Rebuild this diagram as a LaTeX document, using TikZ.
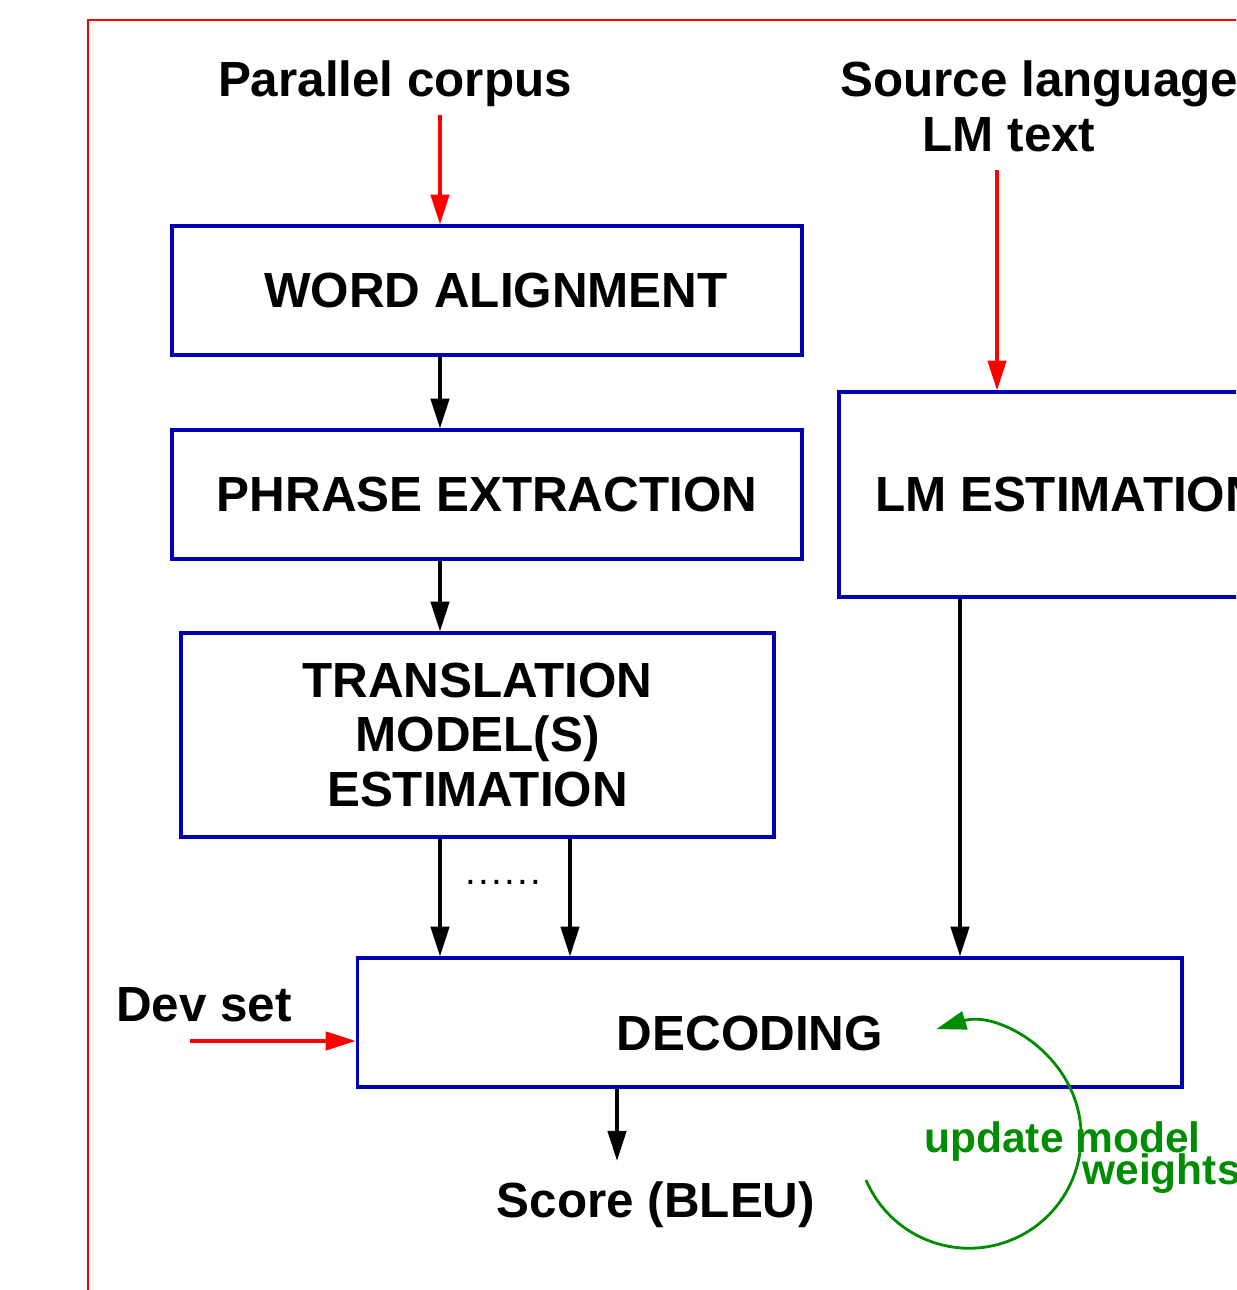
\documentclass[tikz,border=0pt]{standalone}
\usepackage{fontspec}
\setmainfont{Liberation Sans}
\usetikzlibrary{arrows.meta}
\definecolor{boxblue}{RGB}{0,0,178}
\definecolor{loopgreen}{RGB}{0,140,0}
\newcommand{\stagefont}{\fontsize{28.1}{31.2}\selectfont\bfseries}
\newcommand{\loopfont}{\fontsize{24.2}{26}\selectfont\bfseries}

\begin{document}
\begin{tikzpicture}[x=0.02cm,y=0.02cm,
    stage/.style={draw=boxblue,line width=1.8pt,inner sep=0pt,align=center,font=\stagefont},
    lbl/.style={inner sep=4pt,text depth=6pt,font=\stagefont},
    looplbl/.style={inner sep=4pt,font=\loopfont,text=loopgreen},
    flow/.style={line width=1.8pt,-{Triangle[length=17pt,width=10.5pt]}},
    feed/.style={flow,red}]
    \useasboundingbox (0,0) rectangle (1236,1290);
    \clip (0,0) rectangle (1236,1290);

    % frame
    \draw[red,line width=0.9pt] (88,0) -- (88,1270) -- (1300,1270);

    % columns of the arrows
    \coordinate (colA) at (440,0);
    \coordinate (colB) at (570,0);
    \coordinate (colL) at (960,0);
    \coordinate (colS) at (997,0);
    \coordinate (colD) at (617,0);

    % inputs
    \node[lbl,anchor=base] (corpus) at (395,1193) {Parallel corpus};
    \node[lbl,anchor=base west] (srclang) at (833,1193) {Source language};
    \node[lbl,anchor=base] (lmtext) at (1009,1138) {LM text};

    % stages
    \node[stage,minimum width=12.6cm,minimum height=2.58cm] (align) at (487,999.5) {};
    \node[lbl,anchor=base] (aligntxt) at (496,982) {WORD ALIGNMENT};
    \node[stage,minimum width=12.6cm,minimum height=2.58cm] (phrase) at (487,795.5) {PHRASE EXTRACTION};
    \node[stage,minimum width=11.86cm,minimum height=4.08cm] (tmest) at (477.5,555) {TRANSLATION\\MODEL(S)\\ESTIMATION};
    \node[stage,minimum width=9.16cm,minimum height=4.1cm] (lmest) at (1068,795.5) {LM ESTIMATION};
    \node[stage,minimum width=16.5cm,minimum height=2.58cm] (decode) at (769.5,267.5) {};
    \node[lbl,anchor=base] (decodetxt) at (750,239) {DECODING};

    \node[font=\fontsize{22}{24}\selectfont,anchor=base] (dots) at (503,405) {.\kern1.3pt.\kern1.3pt.\kern1.3pt.\kern1.3pt.\kern1.3pt.};

    % dev set and score
    \node[lbl,anchor=base] (devset) at (204,268) {Dev set};
    \coordinate (devin) at (190,249);
    \node[lbl,anchor=base] (score) at (656,72) {Score (BLEU)};

    \draw[feed] (corpus.south -| colA) -- (align.north -| colA);
    \draw[feed] (lmtext.south -| colS) -- (lmest.north -| colS);
    \draw[flow] (align.south -| colA) -- (phrase.north -| colA);
    \draw[flow] (phrase.south -| colA) -- (tmest.north -| colA);
    \draw[flow] (tmest.south -| colA) -- (decode.north -| colA);
    \draw[flow] (tmest.south -| colB) -- (decode.north -| colB);
    \draw[flow] (lmest.south -| colL) -- (decode.north -| colL);
    \draw[feed] (devin) -- (decode.west |- devin);
    \draw[flow,shorten >=8pt] (decode.south -| colD) -- (score.north -| colD);

    % weight update loop
    \coordinate (loopstart) at (866,110);
    \draw[loopgreen,line width=1.6pt,-{Triangle[length=17pt,width=10.5pt]}]
        (loopstart) arc[start angle=203,end angle=467,radius=112];
    \node[looplbl,anchor=base west] (update) at (917,137) {update model};
    \node[looplbl,anchor=base west] (weights) at (1075,105) {weights};
\end{tikzpicture}
\end{document}
